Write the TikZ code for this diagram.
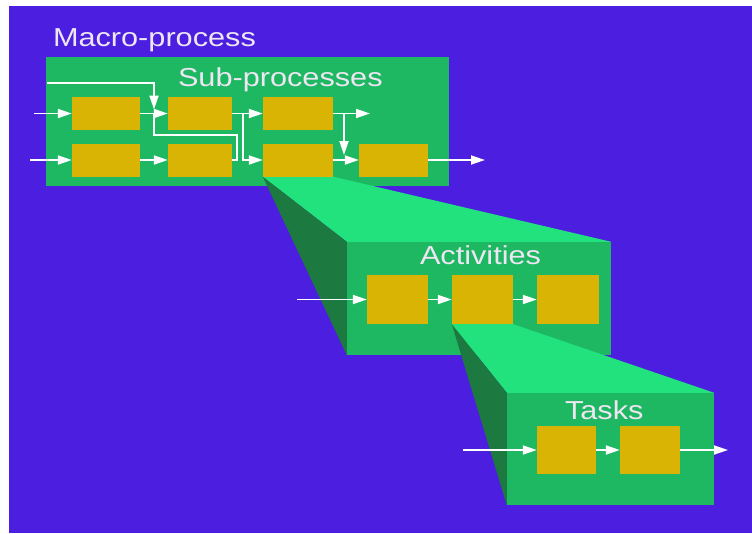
\documentclass[tikz,border=0pt]{standalone}
\usepackage{fontspec}
\setmainfont{Liberation Sans}
\usepackage{graphicx}
\usetikzlibrary{arrows.meta,calc}

\definecolor{bgpurple}{RGB}{76,30,224}
\definecolor{boxgreen}{RGB}{30,184,98}
\definecolor{litegreen}{RGB}{34,226,126}
\definecolor{darkgreen}{RGB}{28,122,64}
\definecolor{stepyellow}{RGB}{218,180,4}
\definecolor{labelwhite}{RGB}{238,230,242}

\pgfdeclarelayer{back}
\pgfdeclarelayer{proj}
\pgfdeclarelayer{mid}
\pgfdeclarelayer{projtwo}
\pgfsetlayers{back,proj,mid,projtwo,main}

\tikzset{
  levelbox/.style={fill=boxgreen, draw=none, inner sep=0pt},
  workbox/.style={fill=stepyellow, draw=none, inner sep=0pt},
  flow/.style={draw=white, line width=1.8pt, -{Triangle[length=14pt,width=9pt]}},
  wire/.style={draw=white, line width=1.8pt},
  levellabel/.style={text=labelwhite, font=\fontsize{26}{30}\selectfont, inner sep=0pt, anchor=base west}
}

\begin{document}
\begin{tikzpicture}[x=1pt,y=-1pt]
    \useasboundingbox (0,0) rectangle (752,533);

    % sub-processes
    \begin{pgfonlayer}{back}
        \fill[bgpurple] (9,6) rectangle (752,533);
        \node[levelbox, minimum width=403pt, minimum height=129pt] (macro) at (247.5,121.5) {};
    \end{pgfonlayer}
    \node[levellabel] (macrolabel) at ([shift={(7,-10)}]macro.north west) {\scalebox{1.18}[1]{Macro-process}};
    \node[levellabel] (sublabel) at ([shift={(132,30)}]macro.north west) {\scalebox{1.18}[1]{Sub-processes}};

    \node[workbox, minimum width=68pt, minimum height=33pt] (s11) at (106,113.5) {};
    \node[workbox, minimum width=64pt, minimum height=33pt] (s12) at (200,113.5) {};
    \node[workbox, minimum width=70pt, minimum height=33pt] (s13) at (298,113.5) {};
    \node[workbox, minimum width=68pt, minimum height=33pt] (s21) at (106,160) {};
    \node[workbox, minimum width=64pt, minimum height=33pt] (s22) at (200,160) {};
    \node[workbox, minimum width=70pt, minimum height=33pt] (s23) at (298,160) {};
    \node[workbox, minimum width=69pt, minimum height=33pt] (s24) at (393.5,160) {};

    \coordinate (in11) at (34,113.5);
    \coordinate (in21) at (30,160);
    \coordinate (feed) at (47,83);
    \coordinate (j1) at ($(s11.east)!0.5!(s12.west)$);
    \coordinate (k1) at (237,135);
    \coordinate (j2) at (243,113.5);
    \coordinate (j3) at (344,113.5);
    \coordinate (out13) at (370,113.5);
    \coordinate (out24) at (485,160);

    \draw[flow] (in11) -- (s11.west);
    \draw[flow] (in21) -- (s21.west);
    \draw[flow] (s11.east) -- (s12.west);
    \draw[flow] (s21.east) -- (s22.west);
    \draw[flow, shorten >=4pt] (feed) -| (j1);
    \draw[wire] (j1) |- (k1) |- (s22.east);
    \draw[flow] (s12.east) -- (s13.west);
    \draw[flow] (j2) |- (s23.west);
    \draw[flow] (s13.east) -- (out13);
    \draw[flow, shorten >=5pt] (j3) -- (j3 |- s23.east);
    \draw[flow] (s23.east) -- (s24.west);
    \draw[flow] (s24.east) -- (out24);

    % activities
    \begin{pgfonlayer}{mid}
        \node[levelbox, minimum width=264pt, minimum height=113pt] (act) at (479,298.5) {};
    \end{pgfonlayer}
    \node[levellabel] (actlabel) at ([shift={(73,23)}]act.north west) {\scalebox{1.18}[1]{Activities}};
    \node[workbox, minimum width=61pt, minimum height=49pt] (a1) at (397.5,299.5) {};
    \node[workbox, minimum width=61pt, minimum height=49pt] (a2) at (482.5,299.5) {};
    \node[workbox, minimum width=62pt, minimum height=49pt] (a3) at (568,299.5) {};
    \coordinate (ain) at (297,299.5);
    \draw[flow] (ain) -- (a1.west);
    \draw[flow] (a1.east) -- (a2.west);
    \draw[flow] (a2.east) -- (a3.west);

    \begin{pgfonlayer}{proj}
        \fill[litegreen] (s23.south west) -- (s23.south east) -- (act.north east) -- (act.north west) -- cycle;
        \fill[darkgreen] (s23.south west) -- (act.north west) -- (act.south west) -- cycle;
    \end{pgfonlayer}

    % tasks
    \node[levelbox, minimum width=207pt, minimum height=112pt] (tsk) at (610.5,449) {};
    \node[levellabel] (tsklabel) at ([shift={(58,27)}]tsk.north west) {\scalebox{1.18}[1]{Tasks}};
    \node[workbox, minimum width=59pt, minimum height=48pt] (t1) at (566.5,450) {};
    \node[workbox, minimum width=60pt, minimum height=48pt] (t2) at (650,450) {};
    \coordinate (tin) at (463,450);
    \coordinate (tout) at (728,450);
    \draw[flow] (tin) -- (t1.west);
    \draw[flow] (t1.east) -- (t2.west);
    \draw[flow] (t2.east) -- (tout);

    \begin{pgfonlayer}{projtwo}
        \fill[litegreen] (a2.south west) -- (a2.south east) -- (tsk.north east) -- (tsk.north west) -- cycle;
        \fill[darkgreen] (a2.south west) -- (tsk.north west) -- (tsk.south west) -- cycle;
    \end{pgfonlayer}
\end{tikzpicture}
\end{document}
